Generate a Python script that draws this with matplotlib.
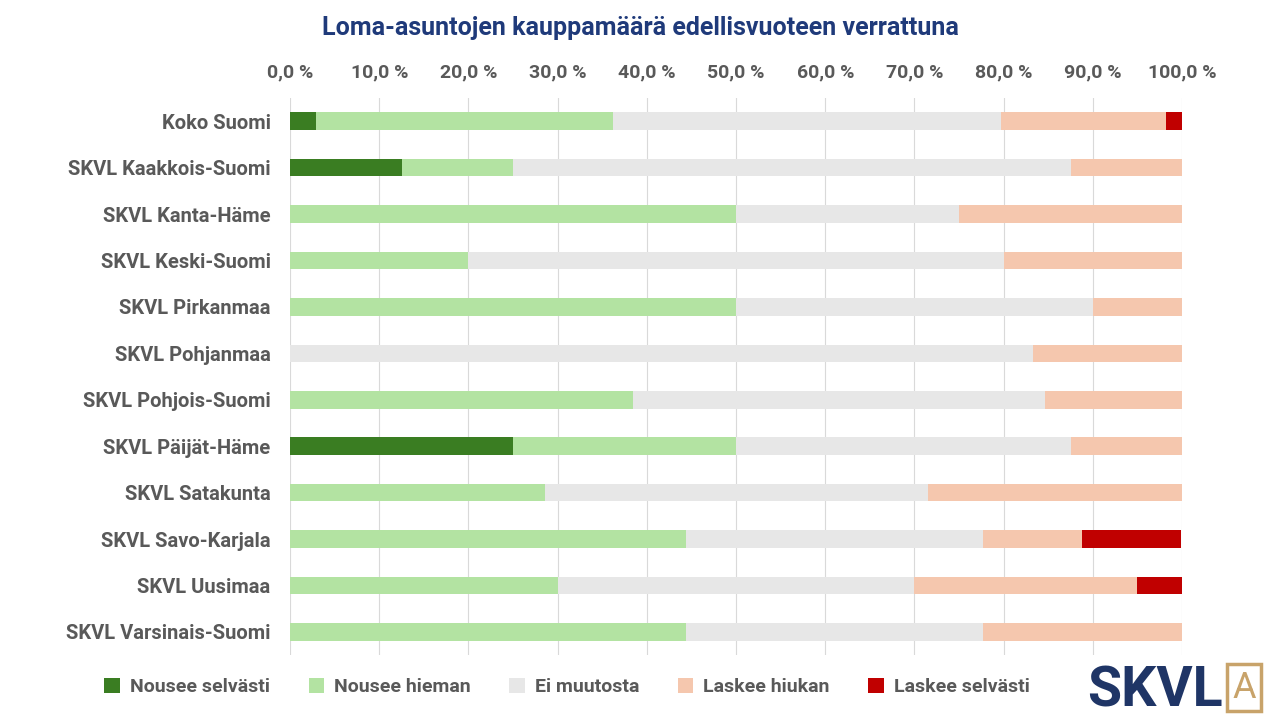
import matplotlib
matplotlib.use("Agg")
import matplotlib.pyplot as plt
import numpy as np

plt.rcParams['font.family'] = ['Roboto', 'DejaVu Sans']

categories = ["Koko Suomi", "SKVL Kaakkois-Suomi", "SKVL Kanta-Häme", "SKVL Keski-Suomi",
              "SKVL Pirkanmaa", "SKVL Pohjanmaa", "SKVL Pohjois-Suomi", "SKVL Päijät-Häme",
              "SKVL Satakunta", "SKVL Savo-Karjala", "SKVL Uusimaa", "SKVL Varsinais-Suomi"]
series_names = ["Nousee selvästi", "Nousee hieman", "Ei muutosta", "Laskee hiukan", "Laskee selvästi"]
nousee_selvasti = [2.9, 12.5, 0, 0, 0, 0, 0, 25, 0, 0, 0, 0]
nousee_hieman = [33.3, 12.5, 50, 20, 50, 0, 38.5, 25, 28.6, 44.4, 30, 44.4]
ei_muutosta = [43.5, 62.5, 25, 60, 40, 83.3, 46.1, 37.5, 42.9, 33.3, 40, 33.3]
laskee_hiukan = [18.5, 12.5, 25, 20, 10, 16.7, 15.4, 12.5, 28.5, 11.1, 25, 22.3]
laskee_selvasti = [1.8, 0, 0, 0, 0, 0, 0, 0, 0, 11.1, 5, 0]
colors = ["#3a7d22", "#b3e3a2", "#e7e7e7", "#f5c7ae", "#c00000"]

fig = plt.figure(figsize=(12.8, 7.2), dpi=100)
ax = fig.add_axes([0.2266, 0.09, 0.6969, 0.774])
y = np.arange(len(categories))
left = np.zeros(len(categories))
for name, vals, c in zip(series_names, [nousee_selvasti, nousee_hieman, ei_muutosta, laskee_hiukan, laskee_selvasti], colors):
    ax.barh(y, vals, left=left, height=0.38, color=c, label=name, zorder=3)
    left += np.array(vals)

ax.set_ylim(len(categories) - 0.5, -0.5)
ax.set_xlim(0, 100)
ax.set_yticks(y)
ax.set_yticklabels(categories, fontsize=14.5, fontweight='bold', color='#595959')
ax.xaxis.tick_top()
ticks = np.arange(0, 101, 10)
ax.set_xticks(ticks)
ax.set_xticklabels([f"{t:.1f} %".replace('.', ',') for t in ticks], fontsize=14, fontweight='bold', color='#595959')
ax.tick_params(length=0, pad=12)
ax.tick_params(axis='y', pad=14)
ax.grid(axis='x', color='#d9d9d9', lw=0.8, zorder=0)
for s in ax.spines.values():
    s.set_visible(False)

fig.text(0.5, 0.961, "Loma-asuntojen kauppamäärä edellisvuoteen verrattuna", ha='center', va='center',
         fontsize=18, fontweight='bold', color='#1f3a7a')
fig.legend(loc='center', bbox_to_anchor=(0.443, 0.046), ncol=5, frameon=False,
           handlelength=0.8, handleheight=0.8, columnspacing=2.0, handletextpad=0.5,
           labelcolor='#595959', prop={'weight': 'bold', 'size': 14})
fig.text(0.955, 0.04, "SKVL", ha='right', va='center', fontsize=40, fontweight='bold', color='#1f3566')
fig.text(0.972, 0.045, "A", ha='center', va='center', fontsize=26, color='#c8a36a',
         bbox=dict(boxstyle='square,pad=0.15', fc='none', ec='#c8a36a', lw=2.5))
fig.savefig("out.png", dpi=100)
